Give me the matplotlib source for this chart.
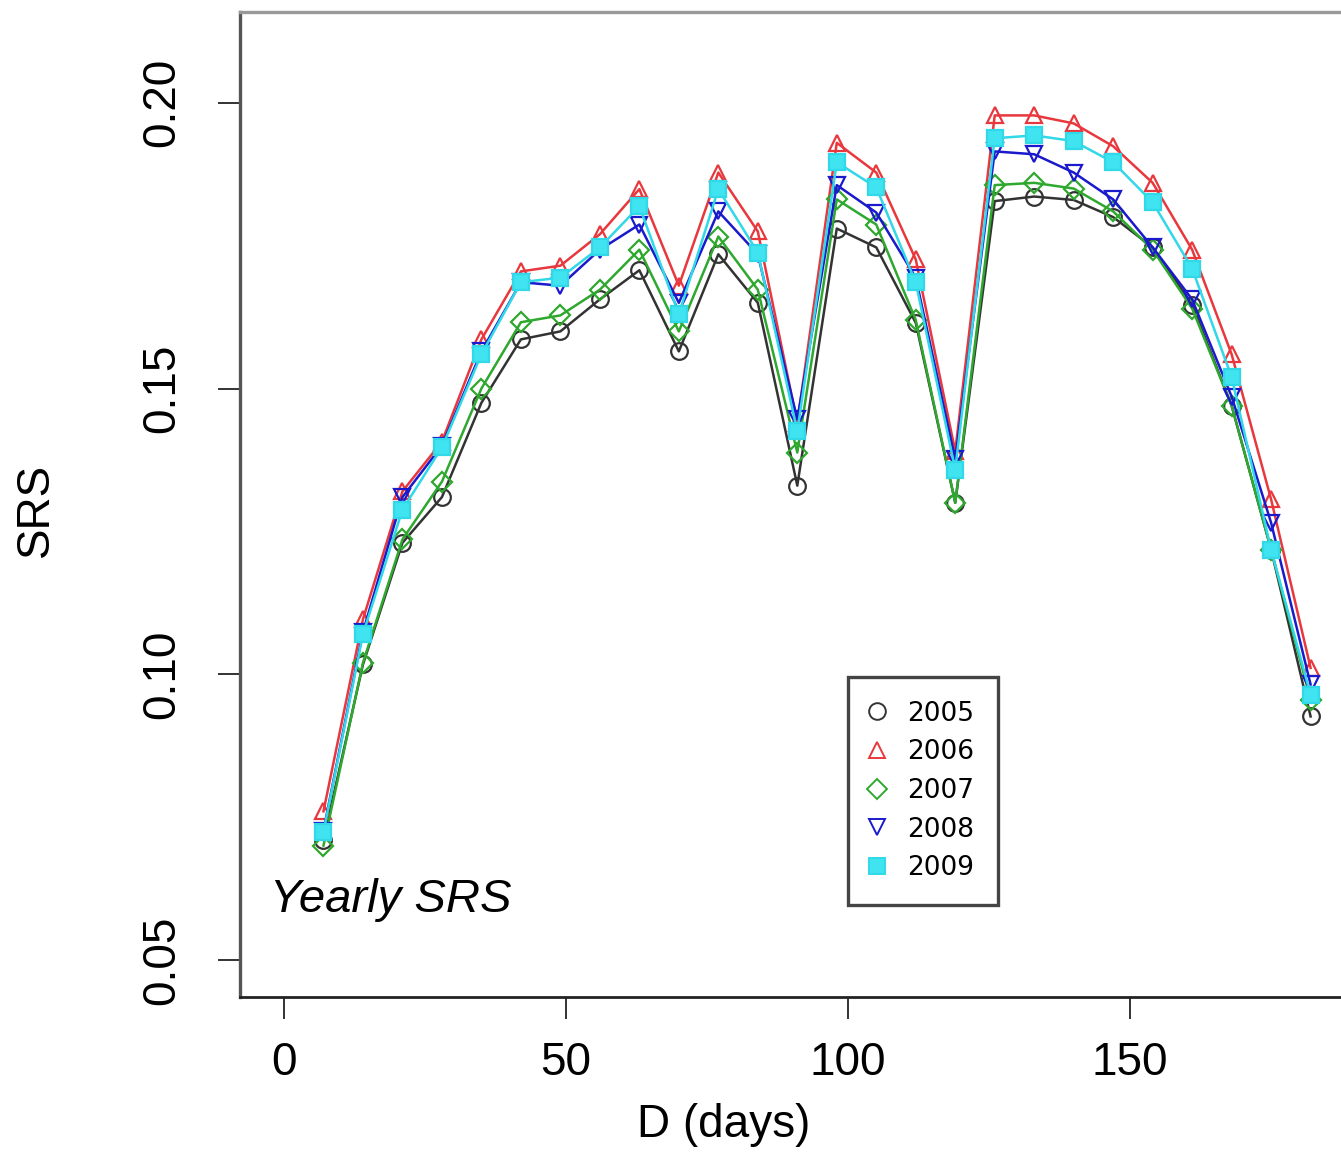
import matplotlib
matplotlib.use("Agg")
import matplotlib.pyplot as plt
from matplotlib.lines import Line2D

# ── Data ───────────────────────────────────────────────────────────────
days = [7, 14, 21, 28, 35, 42, 49, 56, 63, 70, 77, 84, 91,
        98, 105, 112, 119, 126, 133, 140, 147, 154, 161, 168, 175, 182]

srs_2005 = [0.071, 0.1017, 0.123, 0.131, 0.1475, 0.1586, 0.160, 0.1656, 0.1707,
            0.1565, 0.1735, 0.165, 0.133, 0.178, 0.1747, 0.1615, 0.130, 0.1828,
            0.1836, 0.183, 0.180, 0.1747, 0.1647, 0.147, 0.1218, 0.0926]
srs_2006 = [0.076, 0.1096, 0.132, 0.1407, 0.1586, 0.1705, 0.1715, 0.177, 0.1849,
            0.168, 0.1878, 0.1775, 0.144, 0.193, 0.1878, 0.1726, 0.139, 0.1978,
            0.1978, 0.1964, 0.1924, 0.186, 0.1743, 0.156, 0.1306, 0.1011]
srs_2007 = [0.070, 0.102, 0.1236, 0.1337, 0.150, 0.1616, 0.1628, 0.1673, 0.1743,
            0.160, 0.1766, 0.1673, 0.1388, 0.1831, 0.1787, 0.162, 0.130, 0.1856,
            0.186, 0.185, 0.181, 0.1743, 0.164, 0.147, 0.1218, 0.0955]
srs_2008 = [0.0726, 0.1074, 0.131, 0.140, 0.1565, 0.1686, 0.168, 0.1743, 0.1787,
            0.165, 0.181, 0.1735, 0.1446, 0.1856, 0.1808, 0.1694, 0.1376, 0.1915,
            0.191, 0.1878, 0.1831, 0.1747, 0.1656, 0.1486, 0.1265, 0.0982]
srs_2009 = [0.0724, 0.107, 0.1288, 0.1397, 0.156, 0.1686, 0.1694, 0.1747, 0.1819,
            0.163, 0.1849, 0.1738, 0.1425, 0.1896, 0.1852, 0.1686, 0.1358, 0.1938,
            0.1943, 0.1933, 0.1896, 0.1826, 0.171, 0.152, 0.1218, 0.0964]

years = ["2005", "2006", "2007", "2008", "2009"]
x_ticks = [0, 50, 100, 150]
y_ticks = [0.05, 0.10, 0.15, 0.20]

# ── Styles ─────────────────────────────────────────────────────────────
STYLES = [
    dict(color="#333333", marker="o", mfc="none"),
    dict(color="#E8383D", marker="^", mfc="none"),
    dict(color="#2EA82E", marker="D", mfc="none", ms=10),
    dict(color="#1A1ACC", marker="v", mfc="none"),
    dict(color="#30D8E8", marker="s", mfc="#40E4F0"),
]

plt.rcParams["font.family"] = ["Liberation Sans", "DejaVu Sans"]

W, H = 1341, 1157
fig = plt.figure(figsize=(W / 100, H / 100), dpi=100)
ax_l, ax_r, ax_t, ax_b = 240, 1345, 12, 997
ax = fig.add_axes([ax_l / W, (H - ax_b) / H, (ax_r - ax_l) / W, (ax_b - ax_t) / H])

series = [srs_2005, srs_2006, srs_2007, srs_2008, srs_2009]
for vals, st, yr in zip(series, STYLES, years):
    ax.plot(days, vals, linestyle="-", linewidth=1.8, color=st["color"],
            marker=st["marker"], markersize=st.get("ms", 12),
            markerfacecolor=st["mfc"], markeredgecolor=st["color"],
            markeredgewidth=1.6, label=yr)

ax.set_xlim(-7.8, 188.1)
ax.set_ylim(0.0435, 0.2159)
ax.set_xticks(x_ticks)
ax.set_xticklabels([str(t) for t in x_ticks])
ax.set_yticks(y_ticks)
ax.set_yticklabels([f"{t:.2f}" for t in y_ticks], rotation=90, va="center")

ax.tick_params(axis="both", direction="out", length=16, width=1.4,
               colors="#333333", labelcolor="black", labelsize=33)
ax.tick_params(axis="x", pad=16)
ax.tick_params(axis="y", pad=24)

ax.spines["left"].set_color("#555555")
ax.spines["left"].set_linewidth(2.4)
ax.spines["top"].set_color("#999999")
ax.spines["top"].set_linewidth(2.4)
ax.spines["bottom"].set_color("#222222")
ax.spines["bottom"].set_linewidth(2.0)
ax.spines["right"].set_visible(False)

ax.set_xlabel("D (days)", fontsize=33)
ax.xaxis.set_label_coords(0.438, -0.108)
ax.set_ylabel("SRS", fontsize=33)
ax.yaxis.set_label_coords(-0.165, 0.494)

ax.text((270 - ax_l) / (ax_r - ax_l), (ax_b - 900) / (ax_b - ax_t), "Yearly SRS",
        transform=ax.transAxes, fontsize=34, style="italic",
        ha="left", va="center")

# legend: markers only
handles = [Line2D([], [], linestyle="none", marker=st["marker"],
                  markersize=12 if st["marker"] != "D" else 10,
                  markerfacecolor=st["mfc"], markeredgecolor=st["color"],
                  markeredgewidth=1.4)
           for st in STYLES]
leg = ax.legend(handles, years, loc="lower left",
                bbox_to_anchor=((848 - ax_l) / (ax_r - ax_l), (ax_b - 905) / (ax_b - ax_t)),
                borderaxespad=0, fancybox=False, framealpha=1,
                prop={"family": "DejaVu Sans", "size": 19},
                handlelength=0.4, handletextpad=0.93, labelspacing=0.48,
                borderpad=0.9)
leg.get_frame().set_edgecolor("#444444")
leg.get_frame().set_linewidth(2.4)

fig.savefig("out.png", dpi=100)
